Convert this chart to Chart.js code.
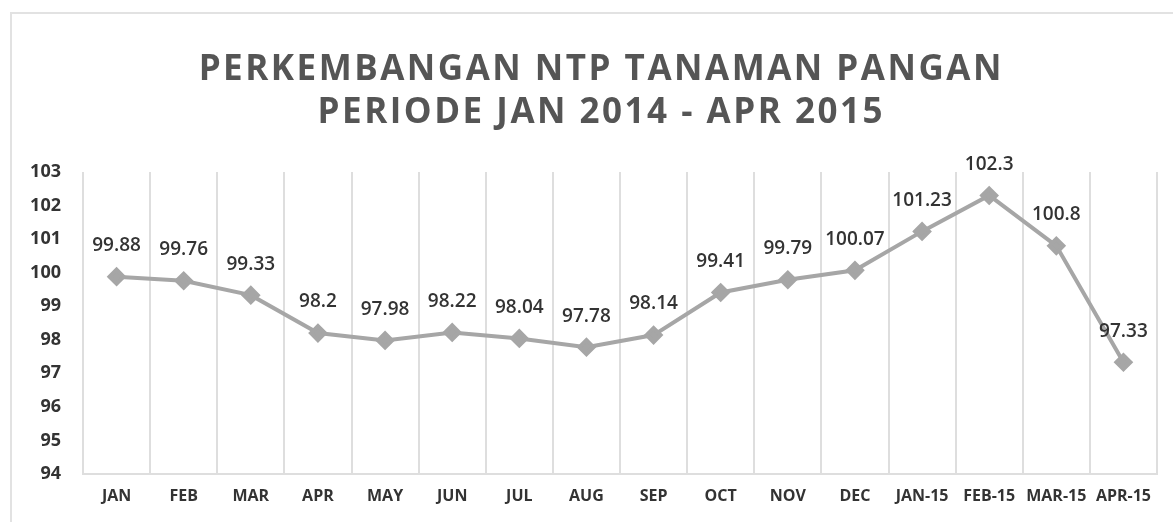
<!DOCTYPE html>
<html>
<head>
<meta charset="utf-8">
<script src="https://cdn.jsdelivr.net/npm/chart.js@4.4.0/dist/chart.umd.min.js"></script>
<style>
  body { margin: 0; background: #fff; overflow: hidden; }
  #frame { position: absolute; left: 10px; top: 12px; width: 1200px; height: 600px; border: 2px solid #e2e2e2; }
  #wrap { position: absolute; left: 0; top: 0; width: 1173px; height: 522px; }
</style>
</head>
<body>
<div id="frame"></div>
<div id="wrap"><canvas id="chart-area" width="1173" height="522"></canvas></div>
<script>
// data
var labels = ['JAN', 'FEB', 'MAR', 'APR', 'MAY', 'JUN', 'JUL', 'AUG', 'SEP', 'OCT', 'NOV', 'DEC', 'JAN-15', 'FEB-15', 'MAR-15', 'APR-15'];
var ntpValues = [99.88, 99.76, 99.33, 98.2, 97.98, 98.22, 98.04, 97.78, 98.14, 99.41, 99.79, 100.07, 101.23, 102.3, 100.8, 97.33];
var titleLines = ['PERKEMBANGAN NTP TANAMAN PANGAN', 'PERIODE JAN 2014 - APR 2015'];
var yMin = 94, yMax = 103;

var fontFamily = '"Open Sans", "Liberation Sans", sans-serif';

// title drawn by hand so letter spacing can be applied
var titlePlugin = {
    id: 'spacedTitle',
    afterDraw: function (chart) {
        var ctx = chart.ctx;
        ctx.save();
        ctx.fillStyle = '#555555';
        ctx.textAlign = 'left';
        ctx.textBaseline = 'middle';
        ctx.font = 'bold 35px ' + fontFamily;
        var centers = [70, 113];
        var spacing = 2.5;
        titleLines.forEach(function (line, i) {
            ctx.letterSpacing = '0px';
            var w = ctx.measureText(line).width + spacing * (line.length - 1);
            ctx.letterSpacing = spacing + 'px';
            ctx.fillText(line, 600 - w / 2, centers[i]);
        });
        ctx.restore();
    }
};

// value labels above each point
var valueLabels = {
    id: 'valueLabels',
    afterDatasetsDraw: function (chart) {
        var ctx = chart.ctx;
        var meta = chart.getDatasetMeta(0);
        ctx.save();
        ctx.fillStyle = '#333333';
        ctx.font = '600 19px ' + fontFamily;
        ctx.textAlign = 'center';
        ctx.textBaseline = 'middle';
        meta.data.forEach(function (pt, i) {
            ctx.fillText(String(ntpValues[i]), pt.x, pt.y - 31);
        });
        ctx.restore();
    }
};

var config = {
    type: 'line',
    data: {
        labels: labels,
        datasets: [{
            label: 'NTP',
            data: ntpValues,
            borderColor: '#a6a6a6',
            backgroundColor: '#a6a6a6',
            borderWidth: 4,
            pointStyle: 'rectRot',
            pointRadius: 7,
            pointHoverRadius: 7,
            pointBackgroundColor: '#a6a6a6',
            pointBorderColor: '#a6a6a6',
            tension: 0
        }]
    },
    options: {
        responsive: false,
        animation: false,
        layout: { padding: { top: 172, right: 16, left: 0, bottom: 0 } },
        plugins: {
            legend: { display: false },
            title: { display: false },
            tooltip: { enabled: false }
        },
        scales: {
            x: {
                offset: true,
                grid: { offset: true, color: '#dedede', lineWidth: 2, drawTicks: false },
                border: { color: '#dedede', width: 2 },
                ticks: {
                    color: '#333333',
                    font: { family: fontFamily, size: 16, weight: 'bold' },
                    padding: 13,
                    autoSkip: false,
                    maxRotation: 0,
                    minRotation: 0
                },
                afterFit: function (scale) { scale.height = 48; }
            },
            y: {
                min: yMin,
                max: yMax,
                ticks: {
                    stepSize: 1,
                    color: '#333333',
                    font: { family: fontFamily, size: 18, weight: 'bold' },
                    padding: 14
                },
                grid: { display: false },
                border: { display: false },
                afterFit: function (scale) { scale.width = 83; }
            }
        }
    },
    plugins: [titlePlugin, valueLabels]
};

window.onload = function () {
    var ctx = document.getElementById('chart-area').getContext('2d');
    window.myLine = new Chart(ctx, config);
};
</script>
</body>
</html>
